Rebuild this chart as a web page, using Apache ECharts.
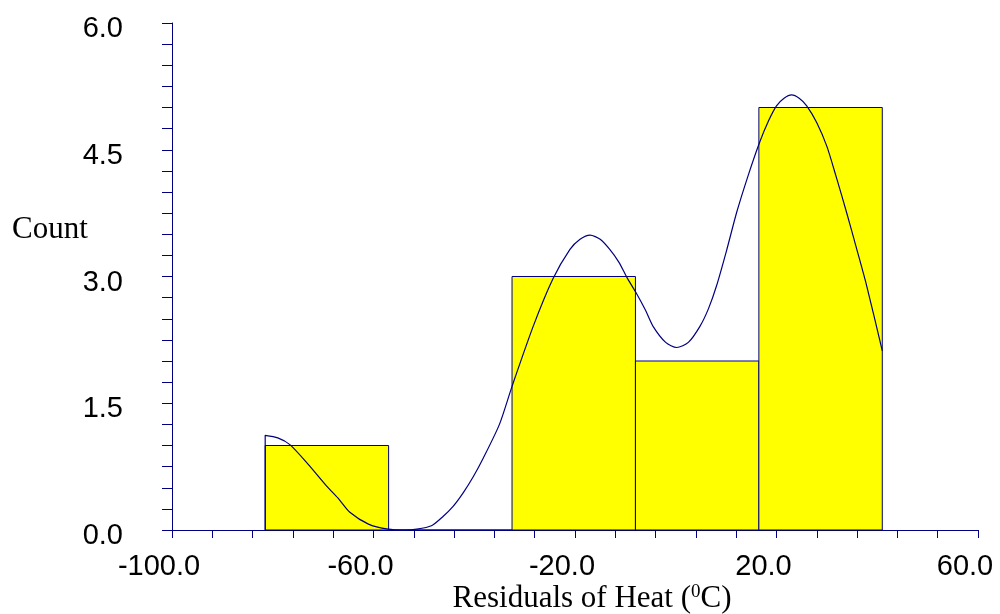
<!DOCTYPE html>
<html>
<head>
<meta charset="utf-8">
<script src="https://cdn.jsdelivr.net/npm/echarts@6/dist/echarts.min.js"></script>
<style>
  html, body { margin: 0; padding: 0; background: #fff; }
  #chart { width: 1000px; height: 614px; }
</style>
</head>
<body>
<div id="chart"></div>
<script>
// histogram bins (left edge, right edge) and counts
const binLeft = [-81.5, -57.0, -32.5, -8.0, 16.5];
const binRight = [-57.0, -32.5, -8.0, 16.5, 41.0];
const counts = [1, 0, 3, 2, 5];

// density curve
const curveX = [-81.5, -81.5, -79.0, -76.6, -73.0, -69.3, -66.8, -64.7, -61.0, -57.1, -54.0, -51.4, -48.5,
  -46.2, -44.2, -42.2, -40.2, -38.3, -35.0, -32.5, -28.3, -24.4, -21.0, -19.0, -17.0, -15.0, -13.1, -11.3,
  -9.7, -7.9, -6.0, -4.5, -2.0, 0.2, 2.5, 4.8, 6.5, 8.1, 10.1, 12.1, 14.4, 16.6, 18.4, 20.0, 21.5,
  23.0, 24.5, 26.0, 28.0, 30.0, 31.9, 33.9, 35.9, 37.9, 41.0];
const curveY = [0, 1.12, 1.09, 1.01, 0.78, 0.52, 0.36, 0.21, 0.07, 0.01, 0.0, 0.01, 0.05,
  0.16, 0.28, 0.44, 0.63, 0.84, 1.25, 1.70, 2.41, 2.97, 3.32, 3.44, 3.49, 3.44, 3.32, 3.17,
  2.99, 2.81, 2.60, 2.41, 2.22, 2.16, 2.22, 2.41, 2.62, 2.89, 3.31, 3.76, 4.20, 4.58, 4.84, 5.02, 5.11,
  5.15, 5.11, 5.02, 4.82, 4.54, 4.17, 3.76, 3.33, 2.89, 2.12];

const xLabels = [-100, -60, -20, 20, 60];
const xTicks = [];
for (let v = -100; v <= 60; v += 8) xTicks.push(v);

const navy = '#000080';

const myChart = echarts.init(document.getElementById('chart'));

const barData = [];
for (let i = 0; i < counts.length; i++) {
  barData.push([binLeft[i], binRight[i], counts[i]]);
}
const lineData = curveX.map((x, i) => [x, curveY[i]]);

const option = {
  animation: false,
  grid: { left: 172, right: 22, top: 23, bottom: 84, containLabel: false },
  xAxis: {
    type: 'value',
    min: -100,
    max: 60,
    axisLine: { onZero: false, lineStyle: { color: navy, width: 1 } },
    axisTick: {
      show: true,
      length: 8,
      customValues: xTicks,
      lineStyle: { color: navy, width: 1 },
    },
    axisLabel: {
      customValues: xLabels,
      margin: 22,
      color: '#000',
      fontFamily: 'Liberation Sans, Arial, sans-serif',
      fontSize: 29,
      padding: [0, 26, 0, 0],
      formatter: (v) => v.toFixed(1),
    },
    splitLine: { show: false },
  },
  yAxis: {
    type: 'value',
    min: 0,
    max: 6,
    interval: 1.5,
    axisLine: { show: true, onZero: false, lineStyle: { color: navy, width: 1 } },
    axisTick: { show: true, length: 10, lineStyle: { color: navy, width: 1 } },
    minorTick: { show: true, splitNumber: 6, length: 10, lineStyle: { color: navy, width: 1 } },
    axisLabel: {
      margin: 49,
      color: '#000',
      fontFamily: 'Liberation Sans, Arial, sans-serif',
      fontSize: 29,
      verticalAlign: 'top',
      lineHeight: 12,
      formatter: (v) => v.toFixed(1),
    },
    splitLine: { show: false },
  },
  graphic: [
    {
      type: 'text',
      left: 12,
      top: 214,
      style: {
        text: 'Count',
        font: '31px "Liberation Serif", "Times New Roman", serif',
        fill: '#000',
      },
    },
    {
      type: 'text',
      x: 592,
      y: 599,
      style: {
        text: '{n|Residuals of Heat (}{s|0}{n|C)}',
        align: 'center',
        verticalAlign: 'middle',
        rich: {
          n: { fontFamily: 'Liberation Serif, Times New Roman, serif', fontSize: 31, color: '#000' },
          s: { fontFamily: 'Liberation Serif, Times New Roman, serif', fontSize: 19, color: '#000', padding: [0, 0, 14, 0] },
        },
      },
    },
  ],
  series: [
    {
      type: 'custom',
      renderItem: (params, api) => {
        const p0 = api.coord([api.value(0), api.value(2)]);
        const p1 = api.coord([api.value(1), 0]);
        return {
          type: 'rect',
          shape: { x: p0[0], y: p0[1], width: p1[0] - p0[0], height: p1[1] - p0[1] },
          style: { fill: '#ffff00', stroke: navy, lineWidth: 1 },
        };
      },
      encode: { x: [0, 1], y: 2 },
      data: barData,
    },
    {
      type: 'line',
      data: lineData,
      smooth: 0.25,
      showSymbol: false,
      lineStyle: { color: navy, width: 1.2 },
      z: 5,
    },
  ],
};
myChart.setOption(option);
</script>
</body>
</html>
